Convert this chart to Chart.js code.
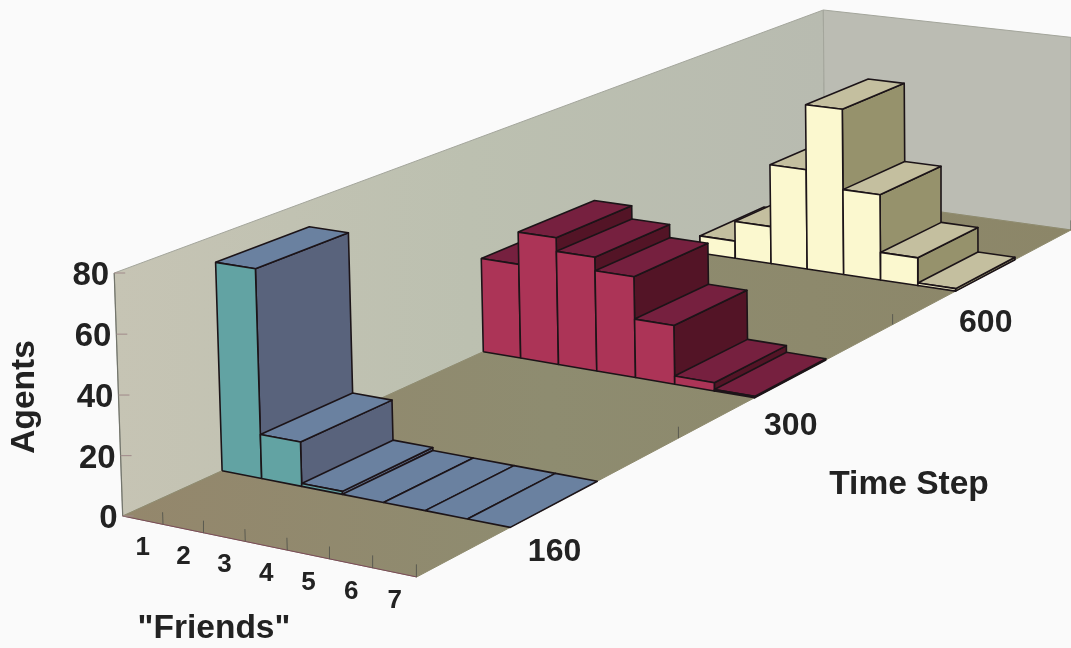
<!DOCTYPE html>
<html>
<head>
<meta charset="utf-8">
<title>Agents by friends and time step</title>
<script src="https://cdn.jsdelivr.net/npm/chart.js@4"></script>
<style>
  body { margin: 0; background: #fafafa; }
  canvas { display: block; }
</style>
</head>
<body>
<canvas id="chart" width="1071" height="648"></canvas>
<script>
const friends = [1, 2, 3, 4, 5, 6, 7];
const timeSteps = [160, 300, 600];
const timeSlots = [1, 4, 7];
const slotTicks = [3, 6, 9];
const agents160 = [71, 15, 1, 0, 0, 0, 0];
const agents300 = [35, 47, 42, 37, 21.5, 3, 0.5];
const agents600 = [7, 15, 40, 66, 34, 11, 1];
const agentTicks = [0, 20, 40, 60, 80];

const FRIEND_MAX = 7;
const SLOT_MAX = 9;
const AGENT_MAX = 80;

const INK = "#1c1418";
const TEXT = "#222222";
const FONT = '"Liberation Sans", Arial, sans-serif';

// perspective camera: friends, time slot, agents -> value on the hidden x/y scales
function project(f, t, a) {
  const u = f / FRIEND_MAX, v = t / SLOT_MAX, w = a / AGENT_MAX;
  const d = -0.04656 * u + 0.319 * v - 0.0088 * w + 1;
  return {
    x: (274.6 * u + 965.5 * v - 9.5 * w + 122.7) / d,
    y: (34.1 * u - 257.5 * v - 245.4 * w + 516) / d,
  };
}

const faces = [];

// one polygon or open line, kept in paint order
const addPath = (corners, fillColor, lineColor, width, closed = true) => {
  const pts = corners.map((c) => project(c[0], c[1], c[2]));
  if (closed) pts.push(pts[0]);
  faces.push({
    data: pts,
    showLine: true,
    fill: closed && fillColor ? "shape" : false,
    backgroundColor: fillColor || "transparent",
    borderColor: lineColor,
    borderWidth: width,
    borderJoinStyle: "round",
    pointRadius: 0,
    clip: false,
  });
};

// front, side and top of one bar; a zero count only leaves its footprint
const addBar = (i, slot, value, colors) => {
  const f0 = i, f1 = i + 1, t0 = slot, t1 = slot + 1;
  if (value > 0) {
    addPath([[f1, t0, 0], [f1, t1, 0], [f1, t1, value], [f1, t0, value]], colors.side, INK, 1.6);
  }
  addPath([[f0, t0, value], [f1, t0, value], [f1, t1, value], [f0, t1, value]], colors.top, INK, 1.6);
  if (value > 0) {
    addPath([[f0, t0, 0], [f1, t0, 0], [f1, t0, value], [f0, t0, value]], colors.front, INK, 1.6);
  }
};

const canvas = document.getElementById("chart");
const gc = canvas.getContext("2d");

// the side wall warms towards the viewer, the floor browns at both ends
const wallShade = gc.createLinearGradient(113, 0, 825, 0);
wallShade.addColorStop(0, "#c6c4b4");
wallShade.addColorStop(0.5, "#bcc0b0");
wallShade.addColorStop(1, "#b8bbb0");

const floorShade = gc.createLinearGradient(123, 0, 1071, 0);
floorShade.addColorStop(0, "#94876c");
floorShade.addColorStop(0.45, "#8e8c70");
floorShade.addColorStop(1, "#8c8668");

addPath([[0, 0, 0], [0, SLOT_MAX, 0], [0, SLOT_MAX, AGENT_MAX], [0, 0, AGENT_MAX]], wallShade, "#a3a59b", 1);
addPath([[0, SLOT_MAX, 0], [FRIEND_MAX, SLOT_MAX, 0], [FRIEND_MAX, SLOT_MAX, AGENT_MAX], [0, SLOT_MAX, AGENT_MAX]], "#bbbcb3", "#a3a59b", 1);
addPath([[0, 0, 0], [FRIEND_MAX, 0, 0], [FRIEND_MAX, SLOT_MAX, 0], [0, SLOT_MAX, 0]], floorShade, "#8f8b6e", 1);
addPath([[0, 0, 0], [0, 0, AGENT_MAX]], null, "#73756c", 1.2, false);
addPath([[0, 0, 0], [FRIEND_MAX, 0, 0]], null, "#7a4a58", 1, false);

// ticks stand on the front and right floor edges
friends.forEach((n) => addPath([[n, 0, 0], [n, 0, 4]], null, "#5a5a50", 1, false));
slotTicks.forEach((s) => addPath([[FRIEND_MAX, s, 0], [FRIEND_MAX, s, 4]], null, "#5a5a50", 1, false));

const seriesLook = [
  { values: agents600, slot: timeSlots[2], colors: { front: "#fbf8cf", top: "#c4bf9f", side: "#96926c" } },
  { values: agents300, slot: timeSlots[1], colors: { front: "#ac3457", top: "#76203f", side: "#531426" } },
  { values: agents160, slot: timeSlots[0], colors: { front: "#62a3a3", top: "#6a81a0", side: "#59637c" } },
];

seriesLook.forEach((s) => {
  s.values.forEach((value, i) => addBar(i, s.slot, value, s.colors));
});

// Chart.js paints the first dataset last, so flip the list
faces.reverse();

const textPlugin = {
  id: "axisText",
  afterDraw(chart) {
    const { ctx, scales } = chart;
    const at = (f, t, a) => {
      const p = project(f, t, a);
      return { x: scales.x.getPixelForValue(p.x), y: scales.y.getPixelForValue(p.y) };
    };
    ctx.save();
    ctx.fillStyle = TEXT;
    ctx.textBaseline = "middle";

    // agent ticks and their labels
    agentTicks.forEach((tick) => {
      const p = at(0, 0, tick);
      ctx.strokeStyle = "#a08a8a";
      ctx.lineWidth = 1;
      ctx.beginPath();
      ctx.moveTo(p.x, p.y);
      ctx.lineTo(p.x + 11, p.y);
      ctx.stroke();
      ctx.font = "bold 33px " + FONT;
      ctx.textAlign = "right";
      ctx.fillText(String(tick), p.x - 5, p.y + 3);
    });

    ctx.font = "bold 26px " + FONT;
    ctx.textAlign = "center";
    friends.forEach((n) => {
      const p = at(n - 0.5, 0, 0);
      ctx.fillText(String(n), p.x, p.y + 28);
    });

    ctx.font = "bold 32px " + FONT;
    timeSteps.forEach((step, i) => {
      const p = at(FRIEND_MAX, timeSlots[i] + 0.5, 0);
      ctx.fillText(String(step), p.x, p.y + 48);
    });

    ctx.font = "bold 33.5px " + FONT;
    ctx.fillText("Time Step", scales.x.getPixelForValue(909), scales.y.getPixelForValue(485));
    ctx.fillText('"Friends"', scales.x.getPixelForValue(214), scales.y.getPixelForValue(629));

    ctx.translate(scales.x.getPixelForValue(25), scales.y.getPixelForValue(397));
    ctx.rotate(-Math.PI / 2);
    ctx.fillText("Agents", 0, 0);
    ctx.restore();
  },
};

new Chart(canvas, {
  type: "scatter",
  data: { datasets: faces },
  options: {
    responsive: false,
    animation: false,
    layout: { padding: 0 },
    plugins: { legend: { display: false }, tooltip: { enabled: false } },
    scales: {
      x: { type: "linear", min: 0, max: 1071, display: false },
      y: { type: "linear", min: 0, max: 648, reverse: true, display: false },
    },
  },
  plugins: [textPlugin],
});
</script>
</body>
</html>
